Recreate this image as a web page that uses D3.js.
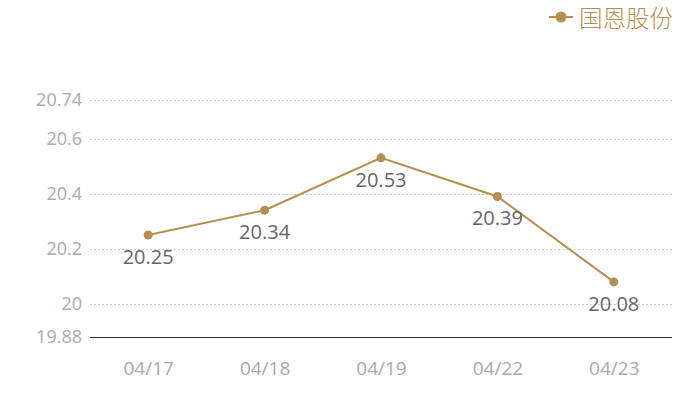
<!DOCTYPE html>
<html><head><meta charset="utf-8">
<script src="https://cdn.jsdelivr.net/npm/d3@7"></script>
<style>body{margin:0;background:#fff;font-family:"Open Sans","Noto Sans CJK SC",sans-serif;}</style>
</head><body><svg id="c" width="700" height="400"></svg>
<script>
const categories = ["04/17","04/18","04/19","04/22","04/23"];
const values = [20.25,20.34,20.53,20.39,20.08];
const yTicks = [19.88,20,20.2,20.4,20.6,20.74];
const seriesName = "国恩股份";
const color = "#b58f4f";

const svg = d3.select("#c");
const m = {l:90, r:672, t:100, b:337};
const x = d3.scalePoint().domain(categories).range([m.l, m.r]).padding(0.5);
const y = d3.scaleLinear().domain([19.88,20.74]).range([m.b, m.t]);

const yAxis = svg.append("g").attr("transform",`translate(${m.l},0)`)
  .call(d3.axisLeft(y).tickValues(yTicks).tickFormat(d=>String(d)).tickSize(0).tickPadding(8));
yAxis.select(".domain").remove();
yAxis.selectAll("text").attr("fill","#aaa").style("font-size","18px").style("font-family","Open Sans");

svg.append("g").selectAll("line").data(yTicks.filter(d=>d!==19.88)).join("line")
  .attr("x1",m.l).attr("x2",m.r).attr("y1",d=>Math.round(y(d))+0.5).attr("y2",d=>Math.round(y(d))+0.5)
  .attr("stroke","#ccc").attr("stroke-dasharray","2,2").attr("stroke-width",1);

const xAxis = svg.append("g").attr("transform",`translate(0,${m.b})`)
  .call(d3.axisBottom(x).tickSize(0).tickPadding(25));
xAxis.select(".domain").remove();
xAxis.selectAll("text").attr("fill","#aaa").style("font-size","19px").style("font-family","Open Sans");
svg.append("line").attr("x1",m.l).attr("x2",m.r).attr("y1",Math.round(y(19.88))+0.5).attr("y2",Math.round(y(19.88))+0.5)
  .attr("stroke","#333").attr("stroke-width",1);

const line = d3.line().x((d,i)=>x(categories[i])).y(d=>y(d));
svg.append("path").datum(values).attr("d",line).attr("fill","none").attr("stroke",color).attr("stroke-width",2);
svg.append("g").selectAll("circle").data(values).join("circle")
  .attr("cx",(d,i)=>x(categories[i])).attr("cy",d=>y(d)).attr("r",4.5).attr("fill",color);
svg.append("g").selectAll("text").data(values).join("text")
  .attr("x",(d,i)=>x(categories[i])).attr("y",d=>y(d)+29)
  .attr("text-anchor","middle").attr("fill","#666").style("font-size","20px").style("font-family","Open Sans")
  .text(d=>d.toFixed(2));

const lg = svg.append("g");
lg.append("line").attr("x1",549).attr("x2",573).attr("y1",17).attr("y2",17).attr("stroke",color).attr("stroke-width",2);
lg.append("circle").attr("cx",561).attr("cy",17).attr("r",5.5).attr("fill",color);
lg.append("text").attr("x",579).attr("y",27).attr("fill",color).style("font-size","23.5px")
  .style("font-family","Noto Sans CJK SC").style("font-weight","300").text(seriesName);
</script></body></html>
